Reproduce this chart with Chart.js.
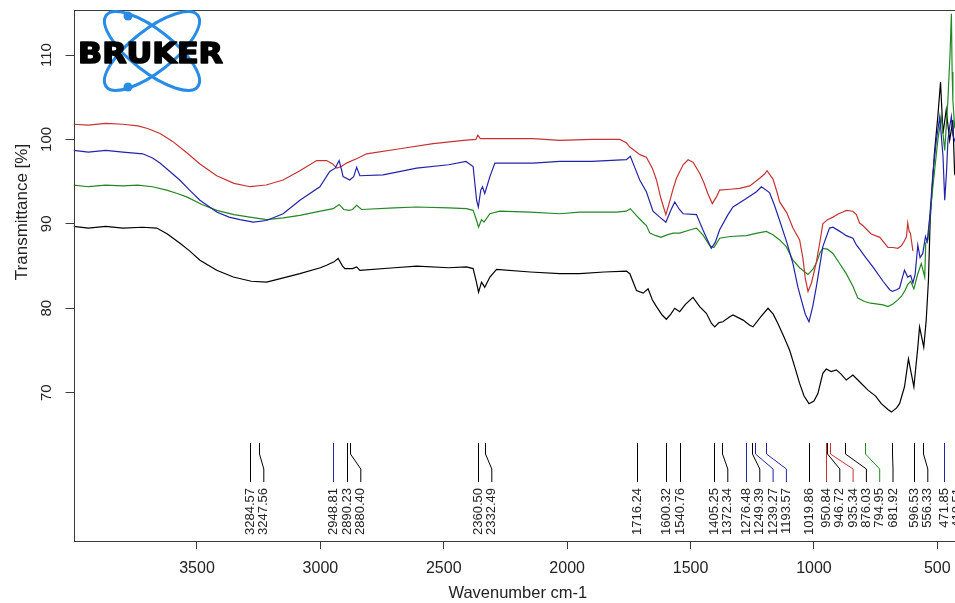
<!DOCTYPE html>
<html>
<head>
<meta charset="utf-8">
<title>FTIR spectra</title>
<script src="https://cdn.jsdelivr.net/npm/chart.js@4.4.0/dist/chart.umd.min.js"></script>
<style>
  html, body { margin: 0; padding: 0; background: #fff; overflow: hidden; }
  canvas { display: block; }
</style>
</head>
<body>
<canvas id="canvas1" width="962" height="603"></canvas>
<script>
// spectra: [wavenumber cm-1, transmittance %]
let redSpectrum = [
  [4000,101.8],[3940,101.7],[3870,101.9],[3800,101.8],[3740,101.6],[3700,101.3],[3650,100.7],[3600,99.8],
  [3540,98.4],[3488,97.1],[3420,95.7],[3350,94.8],[3285,94.4],[3220,94.6],[3151,95.2],[3083,96.3],
  [3015,97.5],[2975,97.5],[2950,97.1],[2934,96.6],[2915,96.8],[2894,97.2],[2847,97.8],[2813,98.3],
  [2678,98.9],[2543,99.5],[2420,99.9],[2370,100.0],[2362,100.5],[2352,100.1],[2250,100.1],[2138,100.1],
  [2030,99.9],[1900,100.0],[1787,100.0],[1760,99.6],[1746,99.1],[1705,98.2],[1679,97.9],[1655,96.6],
  [1638,95.2],[1620,93.0],[1600,91.1],[1585,92.6],[1570,94.2],[1557,95.4],[1530,97.0],[1510,97.6],
  [1490,97.3],[1463,96.0],[1445,94.8],[1430,93.6],[1412,92.4],[1395,93.2],[1382,94.0],[1340,94.1],
  [1301,94.2],[1260,94.5],[1220,95.4],[1200,95.9],[1190,96.3],[1166,95.3],[1150,93.8],[1139,92.6],
  [1110,91.3],[1085,89.5],[1058,88.1],[1045,86.0],[1035,83.5],[1024,82.0],[1010,83.0],[990,85.5],
  [975,88.0],[964,90.0],[945,90.5],[923,90.8],[900,91.2],[883,91.4],[869,91.6],[842,91.5],
  [828,91.1],[815,90.1],[802,89.8],[768,88.8],[733,88.4],[700,87.2],[680,87.2],[660,87.1],
  [646,87.4],[633,88.0],[625,88.5],[620,90.1],[614,89.1],[609,88.9],[599,86.8]
];
let blueSpectrum = [
  [4000,98.7],[3940,98.5],[3870,98.7],[3800,98.5],[3720,98.3],[3680,97.8],[3650,97.2],[3610,96.2],
  [3570,95.2],[3530,94.0],[3488,92.8],[3420,91.4],[3370,90.8],[3326,90.5],[3272,90.2],[3218,90.4],
  [3151,91.2],[3083,92.8],[3002,94.4],[2962,96.2],[2940,96.6],[2924,97.5],[2915,96.5],[2908,95.6],
  [2881,95.2],[2865,95.6],[2853,96.7],[2840,95.7],[2746,95.8],[2610,96.6],[2480,97.0],[2410,97.4],
  [2381,96.8],[2367,92.8],[2360,92.0],[2350,94.0],[2343,94.4],[2334,93.6],[2313,95.6],[2293,97.2],
  [2138,97.2],[2030,97.4],[1900,97.4],[1760,97.6],[1744,98.0],[1725,96.6],[1706,95.2],[1679,93.8],
  [1652,91.5],[1625,90.8],[1600,90.2],[1580,91.6],[1564,92.6],[1545,91.7],[1530,91.2],[1476,91.1],
  [1450,89.3],[1430,88.0],[1416,87.1],[1400,87.8],[1382,89.3],[1350,91.0],[1328,92.0],[1274,93.0],
  [1233,93.8],[1213,94.4],[1180,93.7],[1160,92.2],[1139,90.4],[1110,87.8],[1085,85.3],[1065,82.5],
  [1051,81.0],[1035,79.3],[1020,78.4],[1005,80.2],[990,82.6],[975,85.3],[964,87.3],[937,89.5],
  [923,89.6],[900,89.2],[883,88.9],[869,88.6],[842,88.3],[828,87.5],[815,87.0],[790,86.0],
  [761,84.9],[720,83.2],[693,82.2],[682,82.0],[665,82.2],[653,82.4],[640,83.8],[633,84.5],
  [620,83.7],[608,83.9],[599,83.0],[590,84.0],[579,87.5],[570,86.0],[559,86.5],[548,88.5],
  [541,87.9],[530,91.0],[518,96.0],[504,99.9],[490,102.7],[477,98.0],[470,92.8],[463,96.0],
  [457,99.9],[450,101.5],[443,102.7],[437,100.5],[430,99.9],[415,99.0],[400,98.8]
];
let greenSpectrum = [
  [4000,94.6],[3940,94.4],[3870,94.6],[3800,94.5],[3740,94.6],[3680,94.4],[3623,94.0],[3580,93.6],
  [3542,93.2],[3480,92.3],[3420,91.6],[3350,91.1],[3286,90.8],[3218,90.5],[3150,90.7],[3083,91.0],
  [3000,91.5],[2948,91.8],[2924,92.3],[2905,91.7],[2885,91.6],[2870,91.7],[2853,92.2],[2833,91.7],
  [2700,91.9],[2610,92.0],[2480,91.9],[2408,91.8],[2381,91.6],[2367,90.4],[2359,89.6],[2347,90.5],
  [2337,90.2],[2313,91.2],[2273,91.5],[2150,91.4],[2030,91.2],[1949,91.4],[1800,91.4],[1760,91.5],
  [1744,91.8],[1720,91.0],[1700,90.4],[1679,89.8],[1665,88.9],[1640,88.6],[1620,88.4],[1595,88.7],
  [1571,88.9],[1544,88.9],[1500,89.3],[1476,89.5],[1450,88.7],[1422,87.4],[1405,87.2],[1382,88.3],
  [1340,88.5],[1274,88.6],[1230,88.9],[1193,89.1],[1166,88.7],[1139,88.1],[1112,87.3],[1085,85.7],
  [1058,84.8],[1024,84.0],[1005,84.6],[990,85.4],[975,86.6],[964,87.1],[945,87.0],[923,86.5],
  [896,85.3],[869,84.1],[842,82.6],[822,81.2],[795,80.8],[770,80.6],[741,80.5],[720,80.4],
  [700,80.2],[680,80.5],[660,81.0],[646,81.4],[633,82.0],[620,82.8],[608,83.2],[595,82.3],
  [580,84.0],[565,85.3],[551,83.7],[547,87.7],[538,88.1],[528,91.5],[518,94.4],[498,99.9],
  [484,102.7],[470,98.7],[457,104.7],[448,110.5],[443,114.9],[440,108.0],[437,104.7],[430,101.5],
  [415,100.5],[400,100.0]
];
let blackSpectrum = [
  [4000,89.7],[3940,89.5],[3870,89.7],[3800,89.5],[3720,89.6],[3663,89.5],[3620,88.8],[3569,87.7],
  [3530,86.8],[3488,85.7],[3420,84.5],[3353,83.7],[3280,83.2],[3218,83.1],[3150,83.6],[3083,84.1],
  [3000,84.8],[2975,85.1],[2945,85.5],[2928,85.9],[2910,85.0],[2901,84.7],[2870,84.7],[2853,84.9],
  [2840,84.5],[2700,84.8],[2610,85.0],[2480,84.8],[2408,84.9],[2381,84.7],[2367,83.0],[2359,81.9],
  [2347,83.1],[2334,82.5],[2313,83.7],[2286,84.6],[2150,84.3],[2030,84.1],[1949,84.1],[1850,84.3],
  [1760,84.4],[1746,84.1],[1719,82.1],[1692,81.8],[1672,82.3],[1655,81.0],[1638,80.2],[1615,79.2],
  [1598,78.7],[1580,79.3],[1564,80.0],[1544,79.6],[1520,80.5],[1490,81.3],[1463,80.2],[1436,79.4],
  [1415,78.2],[1402,77.8],[1385,78.3],[1369,78.4],[1341,79.0],[1328,79.2],[1287,78.6],[1260,78.0],
  [1247,77.8],[1215,79.0],[1186,80.0],[1165,79.3],[1146,78.2],[1120,76.5],[1098,75.0],[1075,72.8],
  [1058,71.1],[1040,69.6],[1020,68.7],[1000,69.0],[984,69.9],[964,72.3],[950,72.8],[930,72.5],
  [909,72.7],[890,72.2],[869,71.5],[842,72.1],[815,71.3],[781,70.3],[750,69.6],[727,68.7],
  [700,68.0],[686,67.7],[665,68.2],[653,68.7],[633,70.7],[617,74.0],[595,70.7],[579,75.4],
  [572,77.8],[555,75.4],[545,78.6],[536,83.3],[529,90.4],[512,98.3],[498,102.7],[487,106.8],
  [477,100.7],[464,103.5],[450,99.9],[437,102.3],[430,96.0],[415,97.0],[400,97.0]
];

// axis ticks
let xTicks = [3500, 3000, 2500, 2000, 1500, 1000, 500];
let yTicks = [70, 80, 90, 100, 110];

// picked peaks and the spectrum each one belongs to
let peaks = [3284.57, 3247.56, 2948.81, 2890.23, 2880.40, 2360.50, 2332.49, 1716.24, 1600.32, 1540.76,
             1405.25, 1372.34, 1276.48, 1249.39, 1239.27, 1193.57, 1019.86, 950.84, 946.72, 935.34,
             876.03, 794.95, 681.92, 596.53, 556.33, 471.85, 418.51];
let peakSeries = ['black','black','blue','black','black','black','black','black','black','black',
                  'black','black','blue','black','blue','blue','black','red','black','red',
                  'black','green','black','black','black','blue','black'];

let font = '"Liberation Sans", Arial, sans-serif';
let colors = {
  red: 'rgb(200,50,50)',
  blue: 'rgb(35,35,170)',
  green: 'rgb(35,135,35)',
  black: 'rgb(0,0,0)'
};

function toPoints(spectrum) {
  return spectrum.map(p => ({ x: p[0], y: p[1] }));
}

// box, rotated y labels, peak picks and the logo
let extras = {
  id: 'extras',
  afterDraw(chart) {
    let ctx = chart.ctx;
    let area = chart.chartArea;
    let xs = chart.scales.x;
    let ys = chart.scales.y;
    ctx.save();

    // frame
    ctx.strokeStyle = '#3a3a3a';
    ctx.lineWidth = 1;
    ctx.strokeRect(Math.round(area.left) + 0.5, Math.round(area.top) + 0.5,
                   Math.round(area.right - area.left), Math.round(area.bottom - area.top));

    // y tick labels (rotated like the original)
    ctx.fillStyle = '#222';
    ctx.font = '15px ' + font;
    ctx.textAlign = 'center';
    ctx.textBaseline = 'middle';
    yTicks.forEach(v => {
      ctx.save();
      ctx.translate(47, ys.getPixelForValue(v));
      ctx.rotate(-Math.PI / 2);
      ctx.fillText(String(v), 0, 0);
      ctx.restore();
    });

    // y title
    ctx.font = '17px ' + font;
    ctx.save();
    ctx.translate(22, 212);
    ctx.rotate(-Math.PI / 2);
    ctx.fillText('Transmittance [%]', 0, 0);
    ctx.restore();

    // peak picks
    ctx.font = '13px ' + font;
    ctx.textAlign = 'right';
    let prev = -Infinity;
    peaks.forEach((wn, i) => {
      let px = Math.round(xs.getPixelForValue(wn)) + 0.5;
      let lx = Math.max(px, prev + 13.3);
      prev = lx;
      ctx.strokeStyle = colors[peakSeries[i]];
      ctx.beginPath();
      ctx.moveTo(px, 443);
      ctx.lineTo(px, 454);
      ctx.lineTo(lx, 469);
      ctx.lineTo(lx, 482);
      ctx.stroke();
      ctx.save();
      ctx.translate(lx, 488);
      ctx.rotate(-Math.PI / 2);
      ctx.fillStyle = '#222';
      ctx.fillText(wn.toFixed(2), 0, 0);
      ctx.restore();
    });

    // Bruker logo
    let logoBlue = 'rgb(40,140,230)';
    ctx.strokeStyle = logoBlue;
    ctx.lineWidth = 3;
    [38, -38].forEach(deg => {
      ctx.beginPath();
      ctx.ellipse(152, 51, 58, 21, deg * Math.PI / 180, 0, 2 * Math.PI);
      ctx.stroke();
    });
    ctx.fillStyle = logoBlue;
    [[128, 16], [128, 87]].forEach(d => {
      ctx.beginPath();
      ctx.arc(d[0], d[1], 4.5, 0, 2 * Math.PI);
      ctx.fill();
    });
    ctx.font = 'bold 28px "DejaVu Sans", sans-serif';
    ctx.textAlign = 'left';
    ctx.textBaseline = 'alphabetic';
    let w = ctx.measureText('BRUKER').width;
    ctx.save();
    ctx.translate(78, 63);
    ctx.scale(145 / w, 1);
    ctx.fillStyle = '#000';
    ctx.strokeStyle = '#000';
    ctx.lineWidth = 1.6;
    ctx.lineJoin = 'round';
    ctx.fillText('BRUKER', 0, 0);
    ctx.strokeText('BRUKER', 0, 0);
    ctx.restore();

    ctx.restore();
  }
};

function line(spectrum, color) {
  return {
    data: toPoints(spectrum),
    borderColor: color,
    borderWidth: 1.2,
    pointRadius: 0,
    fill: false,
    tension: 0
  };
}

let options = {
  type: 'line',
  data: {
    datasets: [
      line(blueSpectrum, colors.blue),
      line(redSpectrum, colors.red),
      line(greenSpectrum, colors.green),
      line(blackSpectrum, colors.black)
    ]
  },
  options: {
    responsive: false,
    animation: false,
    devicePixelRatio: 1,
    layout: { padding: { top: 10.3, left: 0, right: 0, bottom: 0 } },
    plugins: {
      legend: { display: false },
      tooltip: { enabled: false }
    },
    scales: {
      x: {
        type: 'linear',
        reverse: true,
        min: 400,
        max: 4000,
        afterBuildTicks: s => { s.ticks = xTicks.map(v => ({ value: v })); },
        afterFit: s => { s.height = 62; },
        grid: { drawOnChartArea: false, drawTicks: true, tickLength: 8, color: '#3a3a3a' },
        border: { display: false },
        ticks: {
          font: { size: 16, family: font },
          color: '#222',
          padding: 10,
          maxRotation: 0,
          autoSkip: false,
          callback: v => String(v)
        },
        title: {
          display: true,
          text: 'Wavenumber cm-1',
          font: { size: 16.5, family: font },
          color: '#222',
          padding: 0
        }
      },
      y: {
        type: 'linear',
        min: 52.43,
        max: 115.3,
        afterBuildTicks: s => { s.ticks = yTicks.map(v => ({ value: v })); },
        afterFit: s => { s.width = 73.6; },
        grid: { drawOnChartArea: false, drawTicks: true, tickLength: 8, color: '#3a3a3a' },
        border: { display: false },
        ticks: { display: false }
      }
    }
  },
  plugins: [extras]
};

let chart = new Chart(document.getElementById('canvas1'), options);
</script>
</body>
</html>
